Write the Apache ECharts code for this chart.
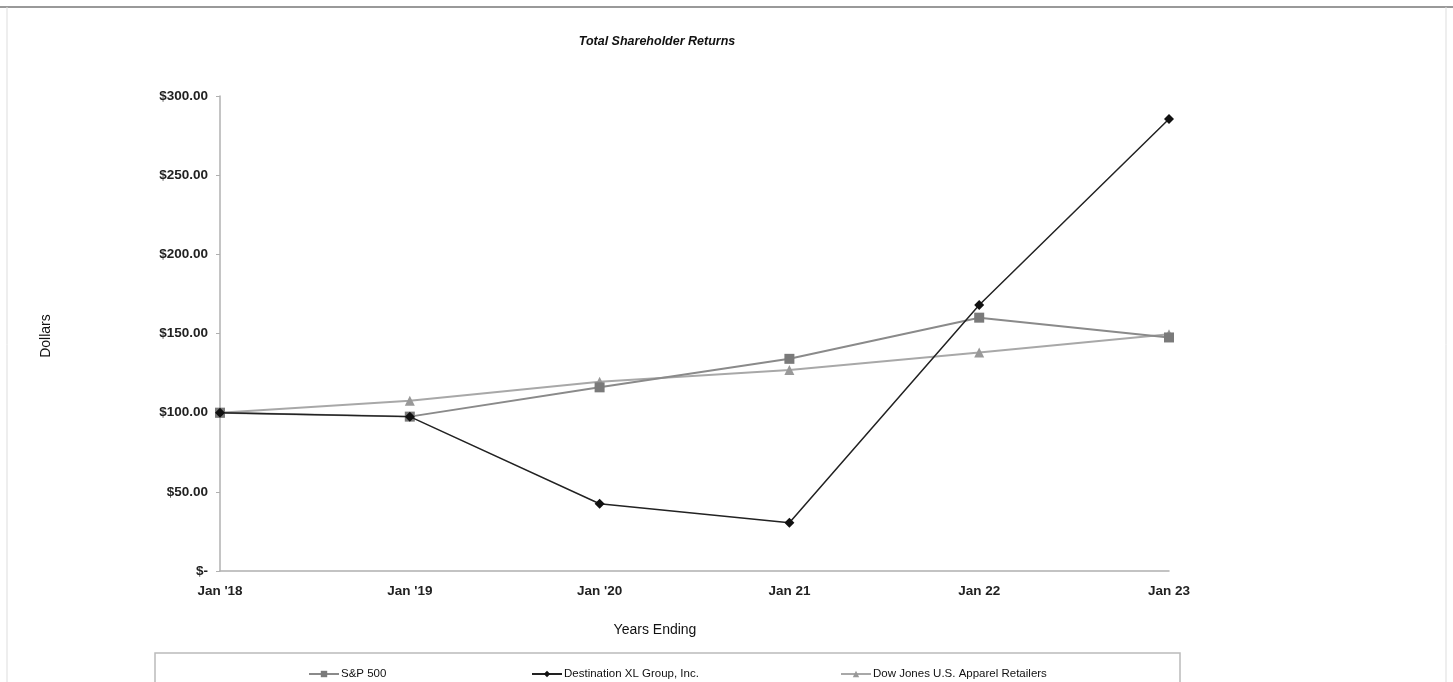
<!DOCTYPE html>
<html><head><meta charset="utf-8">
<script src="https://cdn.jsdelivr.net/npm/echarts@6/dist/echarts.min.js"></script>
<style>html,body{margin:0;padding:0;background:#fff}#c{width:1453px;height:682px}</style>
</head><body><div id="c"></div>
<script>
const categories = ["Jan '18", "Jan '19", "Jan '20", "Jan 21", "Jan 22", "Jan 23"];
const sp500 = [100, 97.5, 116, 134, 160, 147.5];
const dxlg = [100, 97.5, 42.5, 30.5, 168, 285.5];
const dowApparel = [100, 107.5, 119.5, 127, 138, 149.5];
const yTicks = [0, 50, 100, 150, 200, 250, 300];

const font = 'Liberation Sans, Arial, sans-serif';
const chart = echarts.init(document.getElementById('c'));
chart.setOption({
  animation: false,
  backgroundColor: '#fff',
  title: {
    text: 'Total Shareholder Returns', left: 652, top: 30, textAlign: 'center',
    textStyle: {fontFamily: font, fontSize: 12.5, fontWeight: 'bold', fontStyle: 'italic', color: '#111'}
  },
  grid: {left: 220, right: 284, top: 96, bottom: 111},
  legend: [
    {data: ['S&P 500'], left: 303, top: 663},
    {data: ['Destination XL Group, Inc.'], left: 526, top: 663},
    {data: ['Dow Jones U.S. Apparel Retailers'], left: 835, top: 663}
  ].map(l => Object.assign(l, {itemWidth: 30, itemHeight: 8, itemGap: 4, textStyle: {fontFamily: font, fontSize: 11.5, color: '#111', padding: [0, 0, 0, -3]}})),
  xAxis: {
    type: 'category', data: categories, boundaryGap: false,
    axisLine: {lineStyle: {color: '#b0b0b0', width: 1.5}},
    axisTick: {show: false},
    axisLabel: {fontFamily: font, fontSize: 13.5, fontWeight: 'bold', color: '#222', margin: 13}
  },
  yAxis: {
    type: 'value', min: 0, max: 300, interval: 50,
    axisLine: {show: true, lineStyle: {color: '#b0b0b0', width: 1.5}},
    axisTick: {show: true, length: 4, lineStyle: {color: '#b0b0b0'}},
    splitLine: {show: false},
    axisLabel: {fontFamily: font, fontSize: 13.5, fontWeight: 'bold', color: '#222', margin: 12,
      formatter: v => v === 0 ? '$-' : '$' + v.toFixed(2)}
  },
  series: [
    {name: 'S&P 500', type: 'line', data: sp500, symbol: 'rect', symbolSize: 10,
      lineStyle: {color: '#8a8a8a', width: 2}, itemStyle: {color: '#7a7a7a'}, z: 3},
    {name: 'Destination XL Group, Inc.', type: 'line', data: dxlg, symbol: 'diamond', symbolSize: 10,
      lineStyle: {color: '#222', width: 1.5}, itemStyle: {color: '#111'}, z: 4},
    {name: 'Dow Jones U.S. Apparel Retailers', type: 'line', data: dowApparel, symbol: 'triangle', symbolSize: 10,
      lineStyle: {color: '#a8a8a8', width: 2}, itemStyle: {color: '#999'}, z: 2}
  ],
  graphic: [
    {type: 'line', shape: {x1: 0, y1: 7, x2: 1453, y2: 7}, style: {stroke: '#999', lineWidth: 2}},
    {type: 'line', shape: {x1: 7, y1: 7, x2: 7, y2: 682}, style: {stroke: '#ddd', lineWidth: 1}},
    {type: 'line', shape: {x1: 1446, y1: 7, x2: 1446, y2: 682}, style: {stroke: '#ddd', lineWidth: 1}},
    {type: 'rect', shape: {x: 155, y: 653, width: 1025, height: 40}, style: {fill: 'none', stroke: '#bbb', lineWidth: 1.5}},
    {type: 'text', x: 655, y: 630, style: {text: 'Years Ending', font: '14px Liberation Sans, Arial, sans-serif', fill: '#111', textAlign: 'center', textVerticalAlign: 'middle'}},
    {type: 'text', x: 46, y: 336, rotation: Math.PI / 2, style: {text: 'Dollars', font: '14px Liberation Sans, Arial, sans-serif', fill: '#111', textAlign: 'center', textVerticalAlign: 'middle'}}
  ]
});
</script></body></html>
